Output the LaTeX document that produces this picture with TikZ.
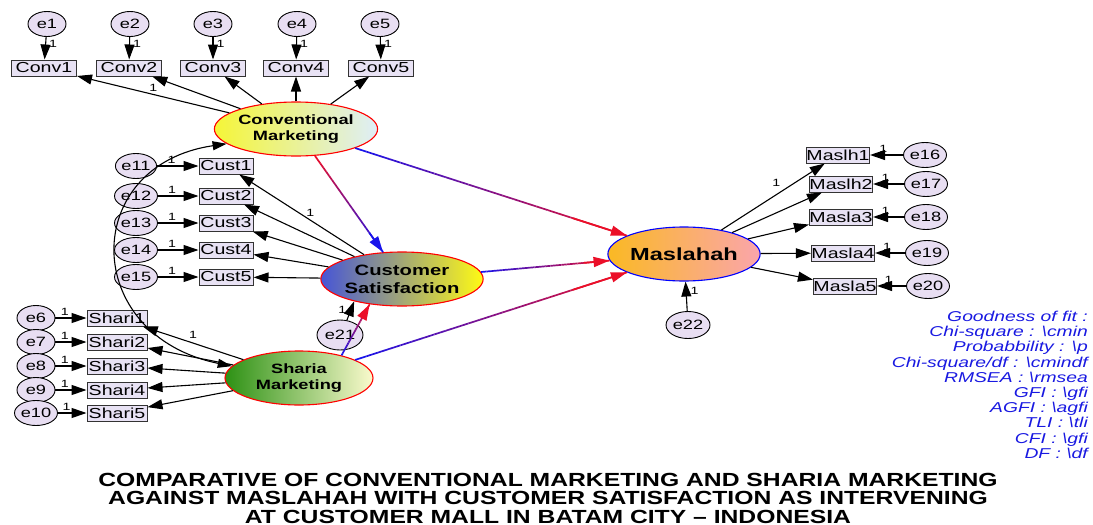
\documentclass[tikz,border=0pt]{standalone}
\usepackage{fontspec}
\setmainfont{Liberation Sans}
\newfontfamily\diagfont[FakeStretch=1.35]{Liberation Sans}
\newfontfamily\titlefont[FakeStretch=1.3]{Liberation Sans}
\usetikzlibrary{arrows.meta,calc,shapes.geometric}

\definecolor{errfill}{RGB}{232,222,242}
\definecolor{boxfill}{RGB}{232,226,244}
\definecolor{fitblue}{RGB}{25,25,225}
\definecolor{cmleft}{RGB}{245,245,55}
\definecolor{cmright}{RGB}{222,238,248}
\definecolor{csleft}{RGB}{70,85,215}
\definecolor{csright}{RGB}{255,250,20}
\definecolor{smleft}{RGB}{45,145,20}
\definecolor{smright}{RGB}{250,250,205}
\definecolor{masleft}{RGB}{250,185,35}
\definecolor{masright}{RGB}{250,165,172}
\definecolor{pathblue}{RGB}{25,20,235}
\definecolor{pathred}{RGB}{235,15,40}

% straight arrow whose colour runs from #3 at the tail to #4 at the head
\newcommand\gradarrow[4]{%
  \path (#1) -- (#2) coordinate[pos=0] (ga-s) coordinate[pos=1] (ga-e);
  \foreach \k in {0,...,23}{%
    \pgfmathtruncatemacro\mixpct{100-100*\k/23}%
    \draw[line width=1.7pt, color=#3!\mixpct!#4]
      ($(ga-s)!\k/24!(ga-e)$) -- ($(ga-s)!\k/24+1/24!(ga-e)$);
  }
  \draw[line width=1.7pt, color=#4, -{Triangle[length=16pt,width=10pt]}]
    ($(ga-s)!0.8!(ga-e)$) -- (ga-e);
}

\begin{document}
\begin{tikzpicture}[x=1pt,y=-1pt,
  errvar/.style={ellipse, draw=black, line width=0.9pt, fill=errfill,
    minimum width=38pt, minimum height=25pt, inner sep=0pt,
    font=\diagfont\fontsize{13.5}{13.5}\selectfont},
  obs/.style={rectangle, draw=black!80, line width=1pt, fill=boxfill,
    minimum height=16pt, inner sep=0pt,
    font=\diagfont\fontsize{14.5}{14.5}\selectfont},
  latent/.style={ellipse, draw=red, line width=1.1pt, minimum width=148pt,
    minimum height=54pt, inner sep=0pt, align=center,
    font=\diagfont\bfseries\fontsize{13.5}{16}\selectfont},
  load/.style={draw=black, line width=1.1pt, -{Triangle[length=15pt,width=10pt]}},
  one/.style={font=\diagfont\fontsize{10.5}{10.5}\selectfont, inner sep=1pt},
]
\useasboundingbox (0,0) rectangle (1093,525);

% latent variables
\node[latent, left color=cmleft, right color=cmright] (cm) at (296,129)
  {Conventional\\Marketing};
\node[latent, left color=csleft, right color=csright, minimum width=138pt,
  font=\diagfont\bfseries\fontsize{15}{18}\selectfont] (cs) at (402,279)
  {Customer\\Satisfaction};
\node[latent, left color=smleft, right color=smright] (sm) at (299,378)
  {Sharia\\Marketing};
\node[latent, draw=blue, left color=masleft, right color=masright,
  minimum width=146pt, font=\diagfont\bfseries\fontsize{17.5}{18}\selectfont]
  (mas) at (684,254) {Maslahah};

% conventional marketing indicators
\foreach \i/\x/\xb in {1/47/44, 2/130/129, 3/213/213, 4/297/296, 5/380/381}{
  \node[errvar] (e\i) at (\x,24) {e\i};
  \node[obs, minimum width=65pt] (conv\i) at (\xb,68) {Conv\i};
  \draw[load] (e\i) -- (conv\i) node[one, pos=0.3, right=2pt] {1};
  \draw[load] (cm) -- (conv\i);
}
\path (cm) -- (conv1) node[one, pos=0.5, above=2pt] {1};

% customer satisfaction indicators
\foreach \i/\y in {1/166, 2/196, 3/223, 4/250, 5/277}{
  \pgfmathtruncatemacro\ei{\i+10}
  \node[errvar] (e\ei) at (136,\y) {e\ei};
  \node[obs, minimum width=54pt] (cust\i) at (226,\y) {Cust\i};
  \draw[load] (e\ei) -- (cust\i) node[one, pos=0.35, above=1pt] {1};
  \draw[load] (cs) -- (cust\i);
}
\path (cs) -- (cust1) node[one, pos=0.43, above=2pt] {1};

% sharia marketing indicators
\foreach \i/\y in {1/318, 2/342, 3/366, 4/390, 5/413}{
  \pgfmathtruncatemacro\ei{\i+5}
  \node[errvar] (e\ei) at (36,\y) {e\ei};
  \node[obs, minimum width=60pt] (shari\i) at (117,\y) {Shari\i};
  \draw[load] (e\ei) -- (shari\i) node[one, pos=0.3, above=1pt] {1};
  \draw[load] (sm) -- (shari\i);
}
\path (sm) -- (shari1) node[one, pos=0.5, above=3pt] {1};

% maslahah indicators
\foreach \i/\lab/\xb/\xe/\y in {1/Maslh1/838/925/155, 2/Maslh2/841/926/184,
    3/Masla3/841/926/217, 4/Masla4/843/927/253, 5/Masla5/845/928/286}{
  \pgfmathtruncatemacro\ei{\i+15}
  \node[obs, minimum width=57pt] (masl\i) at (\xb,\y) {\lab};
  \node[errvar] (e\ei) at (\xe,\y) {e\ei};
  \draw[load] (e\ei) -- (masl\i) node[one, pos=0.6, above=1pt] {1};
  \draw[load] (mas) -- (masl\i);
}
\path (mas) -- (masl1) node[one, pos=0.6, above left=2pt] {1};

% disturbances
\node[errvar, minimum width=46pt, minimum height=30pt] (e21) at (340,335) {e21};
\node[errvar, minimum width=44pt, minimum height=27pt] (e22) at (688,325) {e22};
\draw[load] (e21.65) -- (cs.205) node[one, pos=0.55, left=3pt] {1};
\draw[load] (e22) -- (mas) node[one, pos=0.7, right=3pt] {1};

% covariance between the two marketing constructs
\draw[line width=1.1pt, {Triangle[length=14pt,width=9pt]}-{Triangle[length=14pt,width=9pt]}]
  (cm.192) .. controls (80,165) and (80,335) .. (sm.170);

% structural paths
\gradarrow{cm}{cs}{pathred}{pathblue}
\gradarrow{sm.28}{cs.218}{pathblue}{pathred}
\gradarrow{cm}{mas}{pathblue}{pathred}
\gradarrow{cs}{mas}{pathblue}{pathred}
\gradarrow{sm}{mas}{pathblue}{pathred}

% fit summary
\node[anchor=north east, align=right, text=fitblue, inner sep=0pt,
  font=\diagfont\itshape\fontsize{14.3}{15.2}\selectfont] (fit) at (1088,311)
  {Goodness of fit :\\
   Chi-square : \textbackslash cmin\\
   Probabbility : \textbackslash p\\
   Chi-square/df : \textbackslash cmindf\\
   RMSEA : \textbackslash rmsea\\
   GFI : \textbackslash gfi\\
   AGFI : \textbackslash agfi\\
   TLI : \textbackslash tli\\
   CFI : \textbackslash gfi\\
   DF : \textbackslash df};

% title
\node[align=center, inner sep=0pt,
  font=\titlefont\bfseries\fontsize{19}{18.5}\selectfont] (title) at (548,498)
  {COMPARATIVE OF CONVENTIONAL MARKETING AND SHARIA MARKETING\\
   AGAINST MASLAHAH WITH CUSTOMER SATISFACTION AS INTERVENING\\
   AT CUSTOMER MALL IN BATAM CITY \textendash{} INDONESIA};
\end{tikzpicture}
\end{document}
